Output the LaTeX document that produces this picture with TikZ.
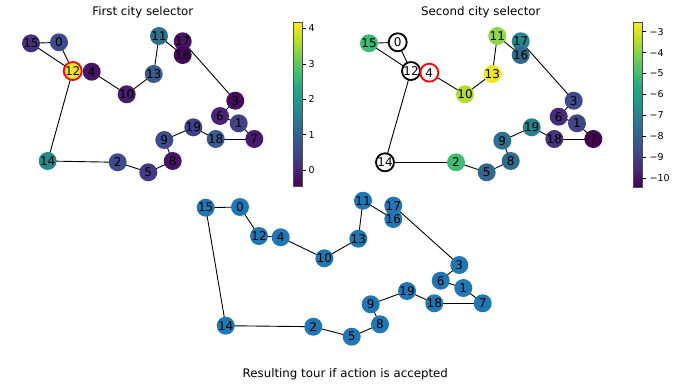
\documentclass[tikz,border=0pt]{standalone}
\usepackage{fontspec}
\setmainfont{DejaVu Sans}
\definecolor{v0}{HTML}{440154}
\definecolor{v1}{HTML}{482475}
\definecolor{v2}{HTML}{414487}
\definecolor{v3}{HTML}{355F8D}
\definecolor{v4}{HTML}{2A788E}
\definecolor{v5}{HTML}{21918C}
\definecolor{v6}{HTML}{22A884}
\definecolor{v7}{HTML}{44BF70}
\definecolor{v8}{HTML}{7AD151}
\definecolor{v9}{HTML}{BDDF26}
\definecolor{v10}{HTML}{FDE725}
\pgfdeclareverticalshading{viridis}{100bp}{color(0bp)=(v0); color(25bp)=(v0); color(30bp)=(v1); color(35bp)=(v2); color(40bp)=(v3); color(45bp)=(v4); color(50bp)=(v5); color(55bp)=(v6); color(60bp)=(v7); color(65bp)=(v8); color(70bp)=(v9); color(75bp)=(v10); color(100bp)=(v10)}
% left panel colours
\definecolor{La15}{HTML}{472F7D}
\definecolor{La0}{HTML}{3E4A89}
\definecolor{La12}{HTML}{FDE725}
\definecolor{La4}{HTML}{471466}
\definecolor{La10}{HTML}{481C6E}
\definecolor{La13}{HTML}{3B5B8B}
\definecolor{La11}{HTML}{2C718E}
\definecolor{La17}{HTML}{471466}
\definecolor{La16}{HTML}{450559}
\definecolor{La3}{HTML}{460A5D}
\definecolor{La6}{HTML}{482475}
\definecolor{La1}{HTML}{424086}
\definecolor{La7}{HTML}{471A6C}
\definecolor{La18}{HTML}{3B5A8B}
\definecolor{La19}{HTML}{424086}
\definecolor{La9}{HTML}{3F4C8A}
\definecolor{La8}{HTML}{471365}
\definecolor{La5}{HTML}{443A83}
\definecolor{La2}{HTML}{3E4C8A}
\definecolor{La14}{HTML}{23898E}
% right panel colours
\definecolor{Lb15}{HTML}{3BBB75}
\definecolor{Lb0}{HTML}{FFFFFF}
\definecolor{Lb12}{HTML}{FFFFFF}
\definecolor{Lb4}{HTML}{FFFFFF}
\definecolor{Lb10}{HTML}{B2DD2D}
\definecolor{Lb13}{HTML}{F1E51D}
\definecolor{Lb11}{HTML}{8ED645}
\definecolor{Lb17}{HTML}{24868E}
\definecolor{Lb16}{HTML}{2F6C8E}
\definecolor{Lb3}{HTML}{3E4A89}
\definecolor{Lb6}{HTML}{472C7B}
\definecolor{Lb1}{HTML}{414487}
\definecolor{Lb7}{HTML}{440154}
\definecolor{Lb18}{HTML}{46327E}
\definecolor{Lb19}{HTML}{25838E}
\definecolor{Lb9}{HTML}{2C718E}
\definecolor{Lb8}{HTML}{306A8E}
\definecolor{Lb5}{HTML}{31688E}
\definecolor{Lb2}{HTML}{40BD72}
\definecolor{Lb14}{HTML}{FFFFFF}
\definecolor{tab}{HTML}{1F77B4}
\pgfdeclarelayer{bg}
\pgfsetlayers{bg,main}
\tikzset{
  city/.style={circle, minimum size=18pt, inner sep=0pt},
  pl/.style={},
  hlr/.style={draw=red, line width=1.8pt},
  hlk/.style={draw=black, line width=1.8pt},
  lbl/.style={inner sep=0pt, font=\fontsize{12}{12}\selectfont, text=black},
  edge/.style={draw=black, line width=0.9pt},
  ttl/.style={inner sep=0pt, font=\fontsize{11.8}{12}\selectfont},
  tick/.style={draw=black, line width=0.6pt},
  ticklbl/.style={anchor=west, inner sep=0pt, font=\fontsize{9.5}{10}\selectfont},
  cbar/.style={draw=black!70, line width=0.6pt}
}
\begin{document}
\begin{tikzpicture}[x=1pt,y=-1pt]
\useasboundingbox (0,0) rectangle (677,388);
% ---------------- left panel ----------------
\foreach \n/\x/\y/\s in {15/31/43.3/pl, 0/59/42.3/pl, 12/72.7/71/hlr, 4/91.7/71.7/pl, 10/126.7/94.3/pl, 13/153.7/74/pl, 11/159/36/pl, 17/182.7/41.3/pl, 16/182.7/55/pl, 3/235.3/100.7/pl, 6/220/116/pl, 1/238.7/123.3/pl, 7/254.3/139/pl, 18/215.7/139/pl, 19/193.3/127.3/pl, 9/164.3/140/pl, 8/172.7/161/pl, 5/148.3/172.3/pl, 2/117.7/162.3/pl, 14/47.7/161/pl}
  {\node[city, fill=La\n, \s] (a\n) at (\x,\y) {};}
\foreach \n in {15,0,12,4,10,13,11,17,16,3,6,1,7,18,19,9,8,5,2,14}
  {\node[lbl] (la\n) at (a\n) {\n};}
% ---------------- right panel ----------------
\foreach \n/\x/\y/\s in {15/369/43.3/pl, 0/397.7/42.3/hlk, 12/411/71/hlk, 4/429.3/72.7/hlr, 10/465/94.3/pl, 13/492.3/74/pl, 11/497.3/36/pl, 17/520.7/41.3/pl, 16/520.7/55/pl, 3/573.7/100.7/pl, 6/558.7/116.7/pl, 1/577/123.3/pl, 7/593.3/139/pl, 18/554.3/139/pl, 19/531.7/127.3/pl, 9/502.3/140.7/pl, 8/510.7/161/pl, 5/486.7/172.3/pl, 2/456/162.3/pl, 14/385/162.3/hlk}
  {\node[city, fill=Lb\n, \s] (b\n) at (\x,\y) {};}
\foreach \n in {15,0,12,4,10,13,11,17,16,3,6,1,7,18,19,9,8,5,2,14}
  {\node[lbl] (lb\n) at (b\n) {\n};}
% ---------------- bottom panel ----------------
\foreach \n/\x/\y in {15/205.7/207.7, 0/240/207, 12/259/236, 4/280.7/237.3, 10/324.3/258.3, 13/358.3/238.7, 11/363/200.7, 17/393.3/205.7, 16/393.3/219, 3/459.3/265, 6/440.7/280.7, 1/463.3/288, 7/482.7/303.3, 18/434.3/303.3, 19/407/291, 9/370.7/304.3, 8/380/324.3, 5/351.7/336.7, 2/313.3/326.7, 14/225.7/325.7}
  {\node[city, fill=tab] (c\n) at (\x,\y) {};}
\foreach \n in {15,0,12,4,10,13,11,17,16,3,6,1,7,18,19,9,8,5,2,14}
  {\node[lbl] (lc\n) at (c\n) {\n};}
% ---------------- edges ----------------
\begin{pgfonlayer}{bg}
\foreach \p in {a,b}{
  \foreach \u/\v in {15/0, 15/12, 0/12, 12/14, 4/10, 10/13, 13/11, 11/16, 16/17, 17/3, 3/6, 6/1, 1/7, 7/18, 18/19, 19/9, 9/8, 8/5, 5/2, 2/14}
    {\draw[edge] (\p\u.center) -- (\p\v.center);}
}
\foreach \u/\v in {15/0, 0/12, 12/4, 4/10, 10/13, 13/11, 11/16, 16/17, 17/3, 3/6, 6/1, 1/7, 7/18, 18/19, 19/9, 9/8, 8/5, 5/2, 2/14, 14/15}
  {\draw[edge] (c\u.center) -- (c\v.center);}
\end{pgfonlayer}
% ---------------- titles ----------------
\node[ttl] (t1) at (142.8,12.7) {First city selector};
\node[ttl] (t2) at (480.8,12.7) {Second city selector};
\node[ttl] (t3) at (345.3,374) {Resulting tour if action is accepted};
% ---------------- colourbars ----------------
\path[shading=viridis] (293.3,22.3) rectangle (302.7,186.7);
\draw[cbar] (293.3,22.3) rectangle (302.7,186.7);
\foreach \v/\yy in {0/170, 1/134.6, 2/99.2, 3/63.8, 4/28.4}
  {\draw[tick] (302.7,\yy) -- (306.2,\yy);
   \node[ticklbl] (ka\v) at (308.3,\yy) {\v};}
\path[shading=viridis] (633.3,22.3) rectangle (642,187.3);
\draw[cbar] (633.3,22.3) rectangle (642,187.3);
\foreach \v/\yy in {3/31.7, 4/52.6, 5/73.6, 6/94.5, 7/115.5, 8/136.4, 9/157.4, 10/178.3}
  {\draw[tick] (642,\yy) -- (645.5,\yy);
   \node[ticklbl] (kb\v) at (649.5,\yy) {−\v};}
\end{tikzpicture}
\end{document}
